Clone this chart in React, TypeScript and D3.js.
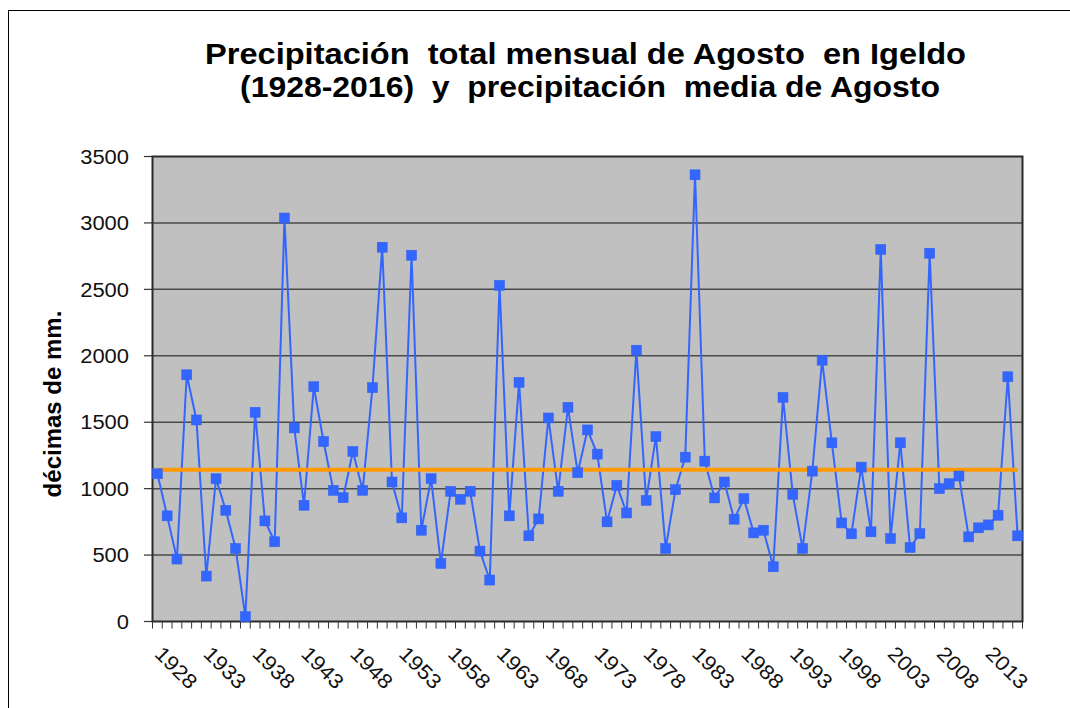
import React from "react";
import * as d3 from "d3";

const years: number[] = d3.range(1928, 2017);
const precipitation: number[] = [
  1112, 795, 470, 1857, 1517, 342, 1075, 837, 550, 37,
  1575, 757, 600, 3037, 1457, 875, 1767, 1355, 987, 932,
  1280, 987, 1760, 2817, 1050, 780, 2757, 687, 1075, 437,
  980, 920, 980, 530, 312, 2530, 795, 1800, 645, 772,
  1532, 980, 1612, 1120, 1442, 1260, 750, 1025, 817, 2042,
  912, 1392, 550, 992, 1237, 3362, 1207, 930, 1050, 770,
  925, 667, 687, 412, 1687, 957, 550, 1132, 1967, 1345,
  742, 660, 1162, 675, 2800, 625, 1345, 557, 662, 2772,
  1000, 1037, 1095, 637, 705, 727, 800, 1842, 645,
];
const meanValue = 1142;
const yTicks: number[] = [0, 500, 1000, 1500, 2000, 2500, 3000, 3500];
const xLabelYears: number[] = [1928, 1933, 1938, 1943, 1948, 1953, 1958, 1963, 1968, 1973, 1978, 1983, 1988, 1993, 1998, 2003, 2008, 2013];
const titleLines: string[] = [
  "Precipitación  total mensual de Agosto  en Igeldo",
  "(1928-2016)  y  precipitación  media de Agosto",
];
const yTitle = "décimas de mm.";

const W = 1070;
const H = 708;
const L = 152.5, R = 1022.5, T = 156.5, B = 621.5;
const FONT = "'Liberation Sans', Arial, sans-serif";

export default function App() {
  const x = d3.scaleBand<number>().domain(years).range([L, R]).padding(0);
  const y = d3.scaleLinear().domain([0, 3500]).range([B, T]);
  const cx = (yr: number) => (x(yr) as number) + x.bandwidth() / 2;

  const pts: [number, number][] = years.map((yr, i) => [cx(yr), y(precipitation[i])]);
  const line = d3.line<[number, number]>().x(d => d[0]).y(d => d[1]);
  const meanPts: [number, number][] = years.map(yr => [cx(yr), y(meanValue)]);

  const boundaries = years.map(yr => x(yr) as number).concat([R]);

  return (
    <svg width={W} height={H} style={{ position: "absolute", left: 0, top: 0, display: "block", background: "#fff" }} fontFamily={FONT}>
      <rect x={8.5} y={10.5} width={W + 10} height={H + 10} fill="#fff" stroke="#000" strokeWidth={1} />
      {/* title */}
      <text x={585.5} y={64} textAnchor="middle" fontSize={29.5} fontWeight="bold" textLength={761} lengthAdjust="spacingAndGlyphs" style={{ whiteSpace: "pre" }}>{titleLines[0]}</text>
      <text x={590} y={97} textAnchor="middle" fontSize={29.5} fontWeight="bold" textLength={700} lengthAdjust="spacingAndGlyphs" style={{ whiteSpace: "pre" }}>{titleLines[1]}</text>

      {/* plot area */}
      <rect x={L} y={T} width={R - L} height={B - T} fill="#C0C0C0" />
      {yTicks.filter(t => t > 0 && t < 3500).map(t => (
        <line key={"g" + t} x1={L} x2={R} y1={y(t)} y2={y(t)} stroke="#4a4a4a" strokeWidth={1.5} />
      ))}
      <rect x={L} y={T} width={R - L} height={B - T} fill="none" stroke="#2a2a2a" strokeWidth={2} />

      {/* y axis ticks and labels */}
      {yTicks.map(t => (
        <g key={"y" + t}>
          <line x1={144} x2={L} y1={y(t)} y2={y(t)} stroke="#333" strokeWidth={1.2} />
          <text x={129} y={y(t)} dy="0.36em" textAnchor="end" fontSize={20} fill="#111"
            textLength={String(t).length * 12.2} lengthAdjust="spacingAndGlyphs">{t}</text>
        </g>
      ))}
      <text transform={`translate(61,404) rotate(-90)`} textAnchor="middle" fontSize={24} fontWeight="bold" fill="#000">{yTitle}</text>

      {/* x axis ticks */}
      {boundaries.map((bx, i) => (
        <line key={"xt" + i} x1={bx} x2={bx} y1={B} y2={B + 7} stroke="#333" strokeWidth={1} />
      ))}
      {xLabelYears.map(yr => (
        <text key={"xl" + yr} transform={`translate(${cx(yr) - 4},655) rotate(45)`} fontSize={20.5} fill="#111"
          textLength={50} lengthAdjust="spacingAndGlyphs">{yr}</text>
      ))}

      {/* series */}
      <path d={line(pts) as string} fill="none" stroke="#3366FF" strokeWidth={2} />
      <path d={line(meanPts) as string} fill="none" stroke="#FF9900" strokeWidth={4} />
      {pts.map((p, i) => (
        <rect key={"m" + i} x={p[0] - 5} y={p[1] - 5} width={10} height={10} fill="#3366FF" stroke="#2f5ff0" strokeWidth={0.5} />
      ))}
    </svg>
  );
}
